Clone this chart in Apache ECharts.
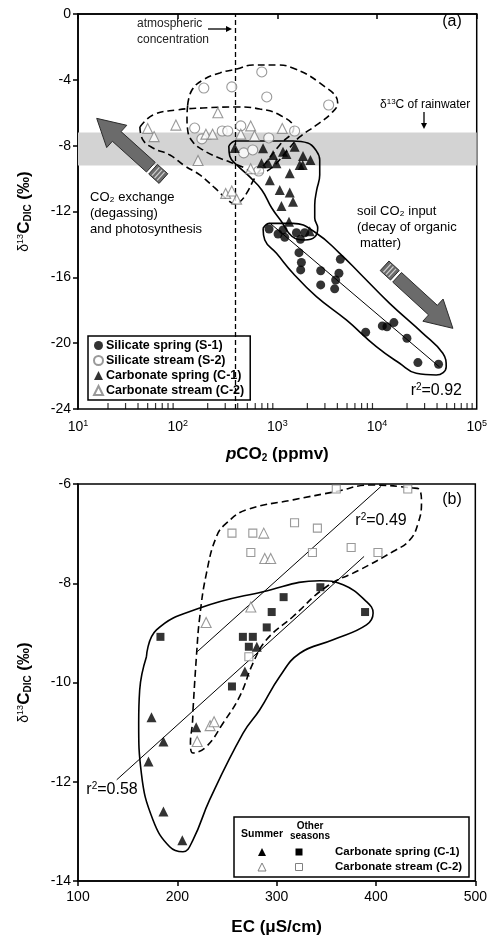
<!DOCTYPE html>
<html>
<head>
<meta charset="utf-8">
<script src="https://cdn.jsdelivr.net/npm/echarts@6.0.0/dist/echarts.min.js"></script>
<style>
html, body { margin: 0; padding: 0; background: #fff; }
#main { width: 490px; height: 942px; }
</style>
</head>
<body>
<div id="main"></div>
<script>
// ---- panel (a): pCO2 (ppmv) vs d13C-DIC (permil) ----
var siliSpring = [[826,-13.06],[1016,-13.37],[1140,-13.12],[1186,-13.57],[1553,-13.29],[1703,-13.69],[1880,-13.29],
  [1648,-14.5],[1742,-15.1],[1714,-15.55],[2722,-15.6],[2722,-16.46],[4149,-15.75],[4285,-14.9],[3845,-16.16],
  [3758,-16.7],[7690,-19.34],[11300,-18.95],[12570,-19.0],[14760,-18.75],[19950,-19.7],[25700,-21.18],[41400,-21.28]];
var siliStream = [[698,-3.52],[183,-4.5],[349,-4.43],[783,-5.04],[3270,-5.53],[148,-6.93],[280,-7.11],[318,-7.11],
  [430,-6.8],[820,-7.53],[1490,-7.11],[175,-7.59],[460,-8.44],[566,-8.26],[650,-9.54]];
var carbSpring = [[719,-8.16],[906,-8.57],[1140,-8.37],[1233,-8.5],[1493,-8.06],[1808,-8.63],[2146,-8.87],[1675,-9.17],
  [1795,-9.17],[693,-9.07],[808,-9.07],[979,-9.07],[1331,-9.68],[840,-10.1],[1057,-10.69],[1331,-10.85],
  [1436,-11.4],[1099,-11.66],[1309,-12.62],[2113,-13.2],[374,-8.14]];
var carbStream = [[253,-6.0],[96,-6.75],[50,-6.95],[58,-7.45],[192,-7.3],[224,-7.3],[430,-7.3],[540,-6.8],[590,-7.4],
  [1120,-6.95],[160,-8.9],[540,-9.4],[303,-10.9],[349,-10.75],[390,-11.25]];

var atmCO2 = 380;
var rainBand = [-7.2, -9.2];
var regA = [[840,-12.7],[42400,-21.45]];

// envelopes drawn round each group
var envSiliSpring = [[719,-13.02],[748,-13.73],[980,-14.54],[1435,-15.75],[2466,-17.17],[4920,-18.59],[9840,-20.21],
  [16830,-21.22],[24760,-21.83],[39260,-21.93],[49430,-21.43],[45710,-20.61],[28840,-19.4],[13370,-17.58],
  [6700,-15.75],[4220,-14.54],[2466,-13.32],[1435,-12.72],[840,-12.72],[719,-13.02]];
var envCarbSpring = [[326,-8.02],[383,-7.72],[667,-7.72],[1426,-7.72],[2017,-7.84],[2427,-8.26],[2661,-8.87],
  [2661,-9.78],[2483,-10.69],[2371,-11.6],[2371,-12.39],[2541,-13.0],[2371,-13.55],[1884,-13.73],[1393,-13.49],
  [1107,-12.64],[879,-11.79],[698,-10.69],[529,-9.9],[401,-9.23],[333,-8.63],[326,-8.02]];
var envSiliStream = [[126,-5.53],[139,-4.62],[179,-4.01],[265,-3.58],[392,-3.34],[567,-3.1],[986,-3.1],[1426,-3.28],
  [2661,-4.19],[4030,-5.41],[3508,-6.01],[2483,-6.74],[1675,-7.47],[1270,-8.26],[942,-9.17],[748,-9.6],[594,-9.72],
  [471,-9.36],[333,-8.99],[247,-8.69],[179,-8.26],[142,-7.78],[126,-7.05],[124,-6.26],[126,-5.53]];
var envCarbStream = [[41.8,-6.87],[56.5,-6.14],[98,-5.83],[179,-5.71],[392,-5.65],[667,-5.77],[1057,-6.14],
  [1459,-6.93],[1057,-7.96],[802,-8.87],[594,-9.96],[494,-10.87],[420,-11.42],[374,-11.54],[318,-11.3],[236,-10.57],
  [167,-9.78],[118,-9.23],[83.6,-8.57],[56.5,-8.14],[44.8,-7.65],[41.8,-6.87]];

var arrowOut = [[72,-10.0],[15.4,-6.34]];      // tail, tip
var arrowIn = [[11900,-15.3],[57680,-19.1]];

// ---- panel (b): EC (uS/cm) vs d13C-DIC ----
var c1Summer = [[280,-9.28],[268,-9.78],[174,-10.7],[186,-11.19],[171,-11.59],[186,-12.6],[205,-13.18],[219,-10.9]];
var c1Other = [[183,-9.08],[266,-9.08],[276,-9.08],[272,-9.28],[255,-10.08],[290,-8.89],[295,-8.58],[307,-8.28],
  [344,-8.08],[389,-8.58]];
var c2Summer = [[287,-6.99],[288,-7.5],[294,-7.5],[274,-8.48],[229,-8.79],[220,-11.19],[233,-10.87],[237,-10.79]];
var c2Other = [[255,-6.99],[276,-6.99],[274,-7.38],[318,-6.78],[341,-6.89],[336,-7.38],[375,-7.28],[402,-7.38],
  [360,-6.1],[432,-6.1],[272,-9.48]];
var regB1 = [[220,-9.38],[405,-6.05]];
var regB2 = [[139,-11.96],[388,-7.46]];
var envC1 = [[168.9,-9.48],[179,-8.94],[222.6,-8.5],[286.3,-8.17],[343.4,-7.95],[366.9,-8.03],[390.4,-8.37],
  [397.1,-8.6],[390.4,-8.84],[356.8,-9.14],[323.3,-9.41],[303.1,-9.88],[283,-10.55],[266.2,-11.02],[232.6,-12.36],
  [215.8,-13.17],[205.7,-13.41],[192.3,-13.31],[175.5,-12.77],[163.8,-11.83],[161.1,-10.82],[162.1,-10.15],[168.9,-9.48]];
var envC2 = [[215.8,-10.55],[219.2,-9.48],[222.6,-8.67],[229.3,-7.8],[239.4,-7.06],[249.4,-6.79],[269.6,-6.52],
  [316.5,-6.32],[360.2,-6.15],[393.8,-6.02],[437.2,-6.08],[444.1,-6.12],[445.8,-6.39],[442.4,-6.79],[434,-7.13],
  [417.2,-7.36],[383.7,-7.73],[350.1,-8.07],[316.5,-8.67],[289.7,-9.14],[276.2,-9.61],[262.8,-10.28],[246,-10.82],
  [229.3,-11.29],[215.8,-11.42],[213.2,-11.22],[215.2,-10.82],[215.8,-10.55]];

var FONT = '"Liberation Sans", Arial, sans-serif';
var GRAY = '#808080';

// minor log ticks (2..9 in each decade)
var minorTicks = [];
for (var d = 10; d < 100000; d *= 10) {
  for (var k = 2; k <= 9; k++) minorTicks.push([d * k, -24]);
}

var chart = echarts.init(document.getElementById('main'));

function yName() {
  return {
    name: '{d|δ}{sup|13}{c|C}{sub|DIC}{c| (‰)}',
    nameLocation: 'middle',
    nameGap: 45,
    nameTextStyle: {
      color: '#000',
      rich: {
        d: { fontSize: 14, fontFamily: FONT, color: '#000' },
        sup: { fontSize: 9, fontFamily: FONT, color: '#000', verticalAlign: 'top', padding: [0, 0, 8, 0] },
        c: { fontSize: 17, fontFamily: FONT, fontWeight: 'bold', color: '#000' },
        sub: { fontSize: 10, fontFamily: FONT, fontWeight: 'bold', color: '#000', verticalAlign: 'bottom', padding: [6, 0, 0, 0] }
      }
    }
  };
}

var axisLine = { lineStyle: { color: '#000', width: 1.5 } };
var axisTick = { length: 5, lineStyle: { color: '#000', width: 1.5 } };
var axisLabel = { color: '#000', fontSize: 14, fontFamily: FONT, margin: 7 };

function env(data, gi, dashed) {
  return {
    type: 'line', xAxisIndex: gi, yAxisIndex: gi, data: data, smooth: 0.45,
    symbol: 'none', silent: true, z: 3,
    lineStyle: { color: '#000', width: 1.6, type: dashed ? [7, 4] : 'solid' }
  };
}
function reg(data, gi) {
  return {
    type: 'line', xAxisIndex: gi, yAxisIndex: gi, data: data, symbol: 'none', silent: true, z: 3,
    lineStyle: { color: '#000', width: 1 }
  };
}
function pts(name, data, gi, symbol, size, open) {
  return {
    name: name, type: 'scatter', xAxisIndex: gi, yAxisIndex: gi, data: data,
    symbol: symbol, symbolSize: size, z: 5,
    itemStyle: open ? { color: '#fff', borderColor: GRAY, borderWidth: 1.1 } : { color: '#000' }
  };
}

chart.setOption({
  animation: false,
  backgroundColor: '#fff',
  grid: [
    { left: 78, top: 14, width: 399, height: 395, show: true, borderColor: '#000', borderWidth: 1.5 },
    { left: 78, top: 484, width: 398, height: 397, show: true, borderColor: '#000', borderWidth: 1.5 }
  ],
  xAxis: [
    {
      type: 'log', logBase: 10, min: 10, max: 100000, gridIndex: 0,
      axisLine: axisLine, axisTick: axisTick, splitLine: { show: false },
      axisLabel: {
        color: '#000', margin: 10,
        formatter: function (v) { return '{b|10}{s|' + Math.round(Math.log10(v)) + '}'; },
        rich: {
          b: { fontSize: 14, fontFamily: FONT, color: '#000' },
          s: { fontSize: 9, fontFamily: FONT, color: '#000', verticalAlign: 'top', padding: [0, 0, 8, 0] }
        }
      },
      name: '{i|p}{b|CO}{s|2}{b| (ppmv)}',
      nameLocation: 'middle', nameGap: 37,
      nameTextStyle: {
        rich: {
          i: { fontSize: 17, fontFamily: FONT, fontWeight: 'bold', fontStyle: 'italic', color: '#000' },
          b: { fontSize: 17, fontFamily: FONT, fontWeight: 'bold', color: '#000' },
          s: { fontSize: 10, fontFamily: FONT, fontWeight: 'bold', color: '#000', verticalAlign: 'bottom', padding: [6, 0, 0, 0] }
        }
      }
    },
    {
      type: 'value', min: 100, max: 500, interval: 100, gridIndex: 1,
      axisLine: axisLine, axisTick: axisTick, splitLine: { show: false },
      axisLabel: { color: '#000', fontSize: 14, fontFamily: FONT, margin: 9 },
      name: 'EC (μS/cm)', nameLocation: 'middle', nameGap: 38,
      nameTextStyle: { fontSize: 17, fontFamily: FONT, fontWeight: 'bold', color: '#000' }
    }
  ],
  yAxis: [
    Object.assign({
      type: 'value', min: -24, max: 0, interval: 4, gridIndex: 0,
      axisLine: axisLine, axisTick: axisTick, splitLine: { show: false }, axisLabel: axisLabel
    }, yName()),
    Object.assign({
      type: 'value', min: -14, max: -6, interval: 2, gridIndex: 1,
      axisLine: axisLine, axisTick: axisTick, splitLine: { show: false }, axisLabel: axisLabel
    }, yName())
  ],
  legend: {
    data: ['Silicate spring (S-1)', 'Silicate stream (S-2)', 'Carbonate spring (C-1)', 'Carbonate stream (C-2)'],
    orient: 'vertical', left: 88, top: 336, selectedMode: false,
    itemWidth: 9, itemHeight: 9, itemGap: 2,
    padding: [3, 6, 3, 5],
    borderColor: '#000', borderWidth: 1.5, backgroundColor: '#fff',
    textStyle: { fontFamily: FONT, fontWeight: 'bold', fontSize: 12.5, color: '#000', padding: [0, 0, 0, -2] }
  },
  series: [
    {
      type: 'line', xAxisIndex: 0, yAxisIndex: 0, data: [], silent: true, z: 1,
      markArea: {
        silent: true, itemStyle: { color: '#d3d3d3' },
        data: [[{ yAxis: rainBand[0] }, { yAxis: rainBand[1] }]]
      },
      markLine: {
        silent: true, symbol: 'none', label: { show: false },
        lineStyle: { color: '#000', width: 1.3, type: [5, 3] },
        data: [{ xAxis: atmCO2 }]
      }
    },
    env(envSiliSpring, 0, false),
    env(envCarbSpring, 0, false),
    env(envSiliStream, 0, true),
    env(envCarbStream, 0, true),
    reg(regA, 0),
    {
      type: 'scatter', xAxisIndex: 0, yAxisIndex: 0, data: minorTicks, silent: true,
      symbol: 'rect', symbolSize: [1.2, 6], symbolOffset: [0, -3], itemStyle: { color: '#000' }, z: 6
    },
    pts('Silicate spring (S-1)', siliSpring, 0, 'circle', 9, false),
    pts('Silicate stream (S-2)', siliStream, 0, 'circle', 10, true),
    pts('Carbonate spring (C-1)', carbSpring, 0, 'triangle', 10, false),
    pts('Carbonate stream (C-2)', carbStream, 0, 'triangle', 10, true),

    env(envC1, 1, false),
    env(envC2, 1, true),
    reg(regB1, 1),
    reg(regB2, 1),
    pts('C-1 summer', c1Summer, 1, 'triangle', 10, false),
    pts('C-1 other', c1Other, 1, 'rect', 8, false),
    pts('C-2 summer', c2Summer, 1, 'triangle', 10, true),
    pts('C-2 other', c2Other, 1, 'rect', 8, true)
  ]
});

// ---- annotations ----
function txt(x, y, s, size, extra) {
  var st = { text: s, fontSize: size, fontFamily: FONT, fill: '#000', align: 'left', verticalAlign: 'middle' };
  for (var key in extra) st[key] = extra[key];
  return { type: 'text', x: x, y: y, z: 20, style: st };
}

function bigArrow(pair) {
  var a = chart.convertToPixel({ gridIndex: 0 }, pair[0]);
  var b = chart.convertToPixel({ gridIndex: 0 }, pair[1]);
  var dx = b[0] - a[0], dy = b[1] - a[1];
  var len = Math.sqrt(dx * dx + dy * dy);
  var u = [dx / len, dy / len], n = [-u[1], u[0]];
  var w = 6.5, hw = 15, hl = 27, stripe = 14, gap = 3;
  function p(t, s) { return [a[0] + u[0] * t + n[0] * s, a[1] + u[1] * t + n[1] * s]; }
  var s0 = stripe + gap, h0 = len - hl;
  var out = [];
  out.push({
    type: 'polygon', z: 8,
    shape: { points: [p(s0, w), p(h0, w), p(h0, hw), p(len, 0), p(h0, -hw), p(h0, -w), p(s0, -w)] },
    style: { fill: '#6b6b6b', stroke: '#2b2b2b', lineWidth: 1 }
  });
  out.push({
    type: 'polygon', z: 8,
    shape: { points: [p(0, w), p(stripe, w), p(stripe, -w), p(0, -w)] },
    style: { fill: '#6b6b6b', stroke: '#2b2b2b', lineWidth: 1 }
  });
  [3.5, 7, 10.5].forEach(function (t) {
    var q1 = p(t, w - 1), q2 = p(t, -w + 1);
    out.push({ type: 'line', z: 9, shape: { x1: q1[0], y1: q1[1], x2: q2[0], y2: q2[1] },
      style: { stroke: '#d0d0d0', lineWidth: 1.2 } });
  });
  return out;
}

function smallArrow(x1, y1, x2, y2) {
  var dx = x2 - x1, dy = y2 - y1, l = Math.sqrt(dx * dx + dy * dy);
  var u = [dx / l, dy / l], n = [-u[1], u[0]];
  var bx = x2 - u[0] * 6, by = y2 - u[1] * 6;
  return [
    { type: 'line', z: 20, shape: { x1: x1, y1: y1, x2: bx, y2: by }, style: { stroke: '#000', lineWidth: 1.3 } },
    { type: 'polygon', z: 20, shape: { points: [[x2, y2], [bx + n[0] * 3, by + n[1] * 3], [bx - n[0] * 3, by - n[1] * 3]] },
      style: { fill: '#000' } }
  ];
}

function tri(cx, cy, s, open) {
  return { type: 'polygon', z: 21, shape: { points: [[cx, cy - s / 2], [cx + s / 2, cy + s / 2], [cx - s / 2, cy + s / 2]] },
    style: open ? { fill: '#fff', stroke: GRAY, lineWidth: 1 } : { fill: '#000' } };
}
function sq(cx, cy, s, open) {
  return { type: 'rect', z: 21, shape: { x: cx - s / 2, y: cy - s / 2, width: s, height: s },
    style: open ? { fill: '#fff', stroke: GRAY, lineWidth: 1 } : { fill: '#000' } };
}

var supRich = { sup: { fontSize: 8, fontFamily: FONT, fill: '#000', verticalAlign: 'top', padding: [0, 0, 6, 0] },
  n: { fontSize: 12, fontFamily: FONT, fill: '#000' }, big: { fontSize: 16, fontFamily: FONT, fill: '#000' },
  bs: { fontSize: 10, fontFamily: FONT, fill: '#000', verticalAlign: 'top', padding: [0, 0, 8, 0] } };

var g = [];
g.push(txt(137, 24, 'atmospheric', 12, { fill: '#222' }));
g.push(txt(137, 40, 'concentration', 12, { fill: '#222' }));
g = g.concat(smallArrow(208, 29, 232, 29));
g.push(txt(452, 22, '(a)', 16, { align: 'center' }));
g.push(txt(380, 105, '{n|δ}{sup|13}{n|C of rainwater}', 12, { rich: supRich }));
g = g.concat(smallArrow(424, 112, 424, 129));
g.push(txt(90, 197, 'CO₂ exchange', 13));
g.push(txt(90, 213, '(degassing)', 13));
g.push(txt(90, 229, 'and photosynthesis', 13));
g.push(txt(357, 211, 'soil CO₂ input', 13));
g.push(txt(357, 227, '(decay of organic', 13));
g.push(txt(360, 243, 'matter)', 13));
g.push(txt(462, 391, '{big|r}{bs|2}{big|=0.92}', 16, { align: 'right', rich: supRich }));
g = g.concat(bigArrow(arrowOut), bigArrow(arrowIn));

g.push(txt(452, 500, '(b)', 16, { align: 'center' }));
g.push(txt(381, 521, '{big|r}{bs|2}{big|=0.49}', 16, { align: 'center', rich: supRich }));
g.push(txt(112, 790, '{big|r}{bs|2}{big|=0.58}', 16, { align: 'center', rich: supRich }));

// legend of panel (b)
g.push({ type: 'rect', z: 19, shape: { x: 234, y: 817, width: 235, height: 60 },
  style: { fill: '#fff', stroke: '#000', lineWidth: 1.5 } });
g.push(txt(262, 834, 'Summer', 10.5, { align: 'center', fontWeight: 'bold' }));
g.push(txt(310, 826, 'Other', 10, { align: 'center', fontWeight: 'bold' }));
g.push(txt(310, 836, 'seasons', 10, { align: 'center', fontWeight: 'bold' }));
g.push(tri(262, 852, 8, false), sq(299, 852, 7, false), tri(262, 867, 8, true), sq(299, 867, 7, true));
g.push(txt(335, 852, 'Carbonate spring (C-1)', 11.5, { fontWeight: 'bold' }));
g.push(txt(335, 867, 'Carbonate stream (C-2)', 11.5, { fontWeight: 'bold' }));

chart.setOption({ graphic: g });
</script>
</body>
</html>
